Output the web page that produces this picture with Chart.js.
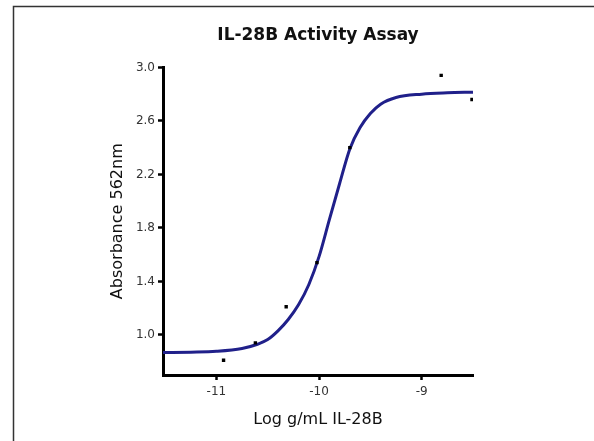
<!DOCTYPE html>
<html>
<head>
<meta charset="utf-8">
<script src="https://cdn.jsdelivr.net/npm/chart.js@4"></script>
<style>
  html, body { margin: 0; padding: 0; background: #fff; }
  #wrap { width: 594px; height: 441px; }
</style>
</head>
<body>
<div id="wrap"><canvas id="grafica" width="594" height="441"></canvas></div>
<script>
// measured points (log g/mL, absorbance at 562nm)
const doseLog = [-10.93, -10.62, -10.32, -10.02, -9.70, -8.81, -8.51];
const absorbance = [0.81, 0.94, 1.21, 1.54, 2.40, 2.94, 2.76];

// fitted curve
const fitLog = [-11.52, -11.25, -11.0, -10.75, -10.6, -10.5, -10.4, -10.3, -10.2, -10.1, -10.0,
                -9.9, -9.8, -9.7, -9.6, -9.5, -9.4, -9.25, -9.0, -8.75, -8.5];
const fitAbs = [0.868, 0.871, 0.877, 0.898, 0.93, 0.965, 1.03, 1.115, 1.225, 1.375, 1.585,
                1.86, 2.13, 2.39, 2.55, 2.655, 2.725, 2.775, 2.80, 2.81, 2.815];

const xTicks = [-11, -10, -9];
const yTicks = [1.0, 1.4, 1.8, 2.2, 2.6, 3.0];

const frame = {
    id: 'frame',
    beforeDraw(chart) {
        const c = chart.ctx;
        c.save();
        c.fillStyle = '#fff';
        c.fillRect(0, 0, chart.width, chart.height);
        c.strokeStyle = '#333';
        c.lineWidth = 1.5;
        c.beginPath();
        c.moveTo(13.5, chart.height);
        c.lineTo(13.5, 6.5);
        c.lineTo(chart.width, 6.5);
        c.stroke();
        c.restore();
    }
};

const axisGrid = {
    drawOnChartArea: false,
    drawTicks: true,
    tickLength: 5,
    tickWidth: 2.5,
    tickColor: '#000',
    color: '#000'
};

let ctx = document.getElementById("grafica").getContext("2d");
let miGrafica = new Chart(ctx, {
    type: "scatter",
    data: {
        datasets: [{
            label: "Absorbance",
            data: doseLog.map((x, i) => ({x: x, y: absorbance[i]})),
            pointStyle: 'rect',
            pointRadius: 2.4,
            backgroundColor: '#000',
            borderColor: '#000',
            borderWidth: 0,
            showLine: false
        },
        {
            label: "Fit",
            data: fitLog.map((x, i) => ({x: x, y: fitAbs[i]})),
            showLine: true,
            pointRadius: 0,
            borderColor: '#20208a',
            borderWidth: 3,
            cubicInterpolationMode: 'monotone'
        }]
    },
    options: {
        responsive: false,
        animation: false,
        layout: { padding: { left: 100, right: 121, top: 0, bottom: 0 } },
        plugins: {
            legend: { display: false },
            tooltip: { enabled: false },
            title: {
                display: true,
                text: 'IL-28B Activity Assay',
                fullSize: false,
                color: '#111',
                font: { family: 'DejaVu Sans', size: 17, weight: 'bold', lineHeight: 1.2 },
                padding: { top: 25, bottom: 22 }
            }
        },
        scales: {
            x: {
                type: 'linear',
                min: -11.52,
                max: -8.5,
                afterFit: s => { s.height = 66; },
                afterBuildTicks: s => { s.ticks = xTicks.map(v => ({value: v})); },
                border: { display: true, color: '#000', width: 3 },
                grid: axisGrid,
                ticks: {
                    autoSkip: false,
                    maxRotation: 0,
                    padding: 5,
                    color: '#333',
                    font: { family: 'DejaVu Sans', size: 12 },
                    callback: v => String(v)
                },
                title: {
                    display: true,
                    text: 'Log g/mL IL-28B',
                    color: '#111',
                    font: { family: 'DejaVu Sans', size: 16, lineHeight: 1.2 },
                    padding: { top: 0, bottom: 12 }
                }
            },
            y: {
                min: 0.70,
                max: 3.0,
                afterFit: s => { s.width = 63; },
                afterBuildTicks: s => { s.ticks = yTicks.map(v => ({value: v})); },
                border: { display: true, color: '#000', width: 3 },
                grid: axisGrid,
                ticks: {
                    padding: 3,
                    color: '#333',
                    font: { family: 'DejaVu Sans', size: 12 },
                    callback: v => v.toFixed(1)
                },
                title: {
                    display: true,
                    text: 'Absorbance 562nm',
                    color: '#111',
                    font: { family: 'DejaVu Sans', size: 16, lineHeight: 1.2 },
                    padding: { top: 8, bottom: 0 }
                }
            }
        }
    },
    plugins: [frame]
});
</script>
</body>
</html>
